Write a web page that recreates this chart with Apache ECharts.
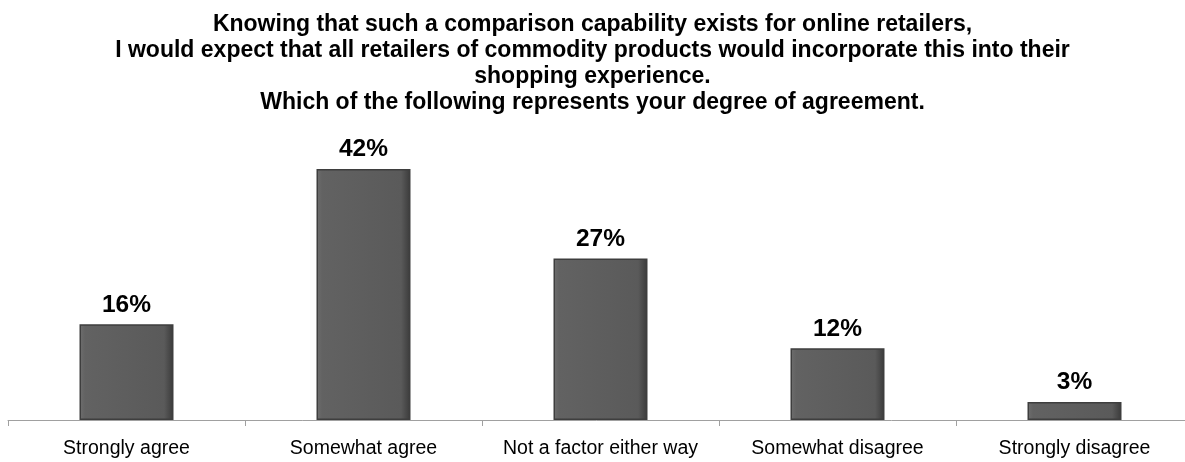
<!DOCTYPE html>
<html><head><meta charset="utf-8">
<script src="https://cdn.jsdelivr.net/npm/echarts@6/dist/echarts.min.js"></script>
<style>html,body{margin:0;padding:0;background:#fff}#c{width:1185px;height:462px}</style>
</head><body><div id="c"></div>
<script>
const titleLines = [
  "Knowing that such a comparison capability exists for online retailers,",
  "I would expect that all retailers of commodity products would incorporate this into their",
  "shopping experience.",
  "Which of the following represents your degree of agreement."
];
const categories = ["Strongly agree", "Somewhat agree", "Not a factor either way", "Somewhat disagree", "Strongly disagree"];
const values = [16, 42, 27, 12, 3];

const chart = echarts.init(document.getElementById('c'));
chart.setOption({
  animation: false,
  title: {
    text: titleLines.join('\n'),
    left: 'center', top: 7,
    textStyle: {fontFamily: 'Liberation Sans, Arial', fontWeight: 'bold', fontSize: 23, lineHeight: 26, color: '#000'}
  },
  grid: {left: 8, width: 1185, top: 151, bottom: 42, outerBoundsMode: 'none', containLabel: false},
  xAxis: {
    type: 'category', data: categories,
    axisLine: {lineStyle: {color: '#a0a0a0', width: 1}},
    axisTick: {show: true, interval: 0, length: 6, lineStyle: {color: '#a0a0a0'}},
    axisLabel: {interval: 0, fontFamily: 'Liberation Sans, Arial', fontSize: 19.5, color: '#000', margin: 19}
  },
  yAxis: {type: 'value', min: 0, max: 45, show: false, splitLine: {show: false}},
  series: [{
    type: 'bar', data: values, barWidth: 94,
    itemStyle: {
      color: {type: 'linear', x: 0, y: 0, x2: 1, y2: 0, colorStops: [
        {offset: 0, color: '#6e6e6e'}, {offset: 0.06, color: '#626262'}, {offset: 0.9, color: '#5a5a5a'}, {offset: 1, color: '#3a3a3a'}]},
      borderColor: '#3e3e3e', borderWidth: 1.5
    },
    label: {show: true, position: 'top', distance: 7, formatter: '{c}%',
      fontFamily: 'Liberation Sans, Arial', fontWeight: 'bold', fontSize: 24.5, color: '#000'}
  }]
});
</script></body></html>
